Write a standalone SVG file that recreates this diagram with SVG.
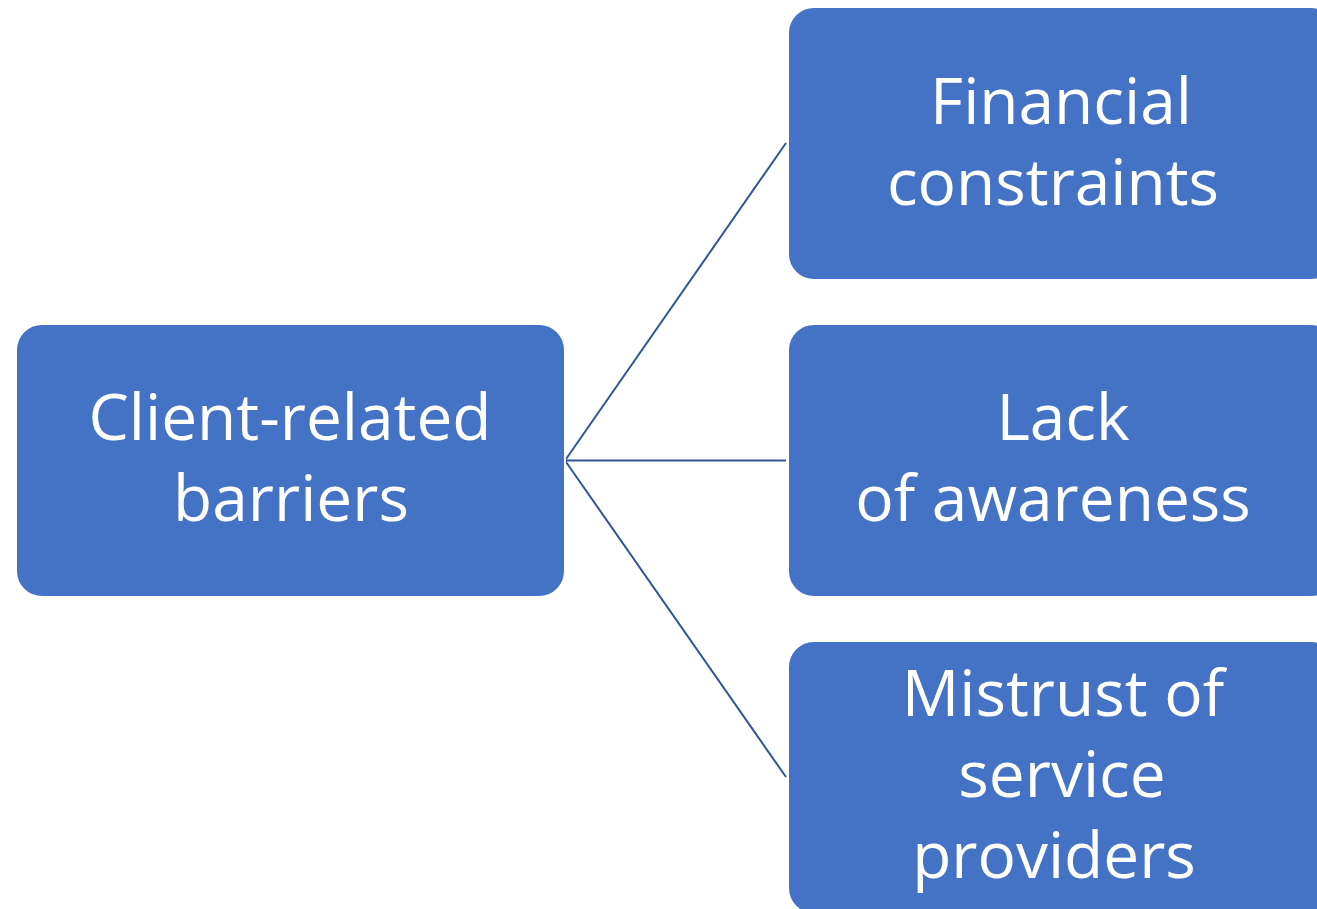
<svg xmlns="http://www.w3.org/2000/svg" width="1317" height="909" viewBox="0 0 1317 909">
<style>
.box{fill:#4472C4;stroke:#FFFFFF;stroke-width:2}
.t{fill:#FFFFFF;font-family:"Open Sans","Liberation Sans",sans-serif;font-size:64px;text-anchor:middle}
.c{stroke:#2F5597;stroke-width:2;fill:none}
</style>
<rect width="1317" height="909" fill="#FFFFFF"/>
<g id="connectors">
<line class="c" x1="565" y1="460.5" x2="786" y2="143"/>
<line class="c" x1="565" y1="460.5" x2="786" y2="460.5"/>
<line class="c" x1="565" y1="460.5" x2="786" y2="777"/>
</g>
<g id="client">
<rect class="box" x="16" y="324" width="549" height="273" rx="26"/>
<text class="t" x="290" y="440">Client-related</text>
<text class="t" x="291" y="521">barriers</text>
</g>
<g id="financial">
<rect class="box" x="788" y="7" width="549" height="273" rx="26"/>
<text class="t" x="1061" y="124">Financial</text>
<text class="t" x="1053" y="205">constraints</text>
</g>
<g id="awareness">
<rect class="box" x="788" y="324" width="549" height="273" rx="26"/>
<text class="t" x="1063" y="440">Lack</text>
<text class="t" x="1053" y="521">of awareness</text>
</g>
<g id="mistrust">
<rect class="box" x="788" y="641" width="549" height="273" rx="26"/>
<text class="t" x="1063" y="716">Mistrust of</text>
<text class="t" x="1062" y="797">service</text>
<text class="t" x="1054" y="878">providers</text>
</g>
</svg>
